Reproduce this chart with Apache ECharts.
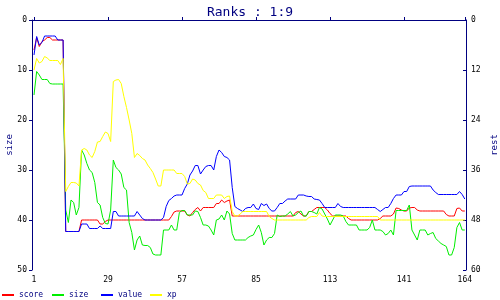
<!DOCTYPE html>
<html><head><meta charset="utf-8">
<script src="https://cdn.jsdelivr.net/npm/echarts@6/dist/echarts.min.js"></script>
<style>html,body{margin:0;padding:0;background:#fff}#c{width:500px;height:300px}</style>
</head><body><div id="c"></div>
<script>
const titleText = 'Ranks : 1:9';
const seriesNames = ['score', 'size', 'value', 'xp'];
const xTicks = [1, 29, 57, 85, 113, 141, 164];
const leftTicks = [0, 10, 20, 30, 40, 50];
const rightTicks = [0, 12, 24, 36, 48, 60];

const score = [6,3.5,5.3,4.3,4,3.5,3.5,4,4,4,4,4,
42.3,42.3,42.3,42.3,42.3,42.3,40,40,40,40,40,40,40,40.8,40.8,40.3,
40,40,40,40,40,40,40,40,40,40,40,40,40,40,40,40,40,40,40,40,40,40,40,40,
39.3,38.4,38.2,38.2,38.2,38.2,39.0,39.2,38.5,37.9,37.5,38.2,
37.5,37.5,37.5,37.5,37.5,36.7,36.7,36,36.5,36.2,36,
39.2,39.2,39.2,39.2,39.2,39.2,39.2,39.2,39.2,39.2,39.2,39.2,39.2,39.2,39.2,39.2,39.2,39.2,39.2,39.2,39.2,39.2,39.2,39.2,
38.5,38.3,38.8,39.2,39.2,38.3,38.3,37.9,37.5,37.5,37.5,37.5,38,38.7,
39.2,39.2,39.2,39.2,39.2,39.2,39.7,
40,40,40,40,40,40,40,40,40,40,40,39.7,39.2,39.2,39.2,39.2,38.8,
37.6,37.7,38,38.2,38.2,37.6,37.5,37.5,38,
38.2,38.2,38.2,38.2,38.2,38.2,38.2,38.2,38.2,38.2,38.9,39.2,39.2,39.2,37.7,37.6,38.2,38.2];

const size = [15,10.3,11,11.9,11.9,11.9,12.7,12.8,12.8,12.8,12.8,12.8,
38,40.5,36,36.5,39,37.5,26,27,28.7,30,30.5,32.5,36.5,37,39.5,40.7,40.8,38,
28,29.5,30,30.8,33.5,34,40.5,42.5,46,44,43.2,
45,45.1,45.1,45.5,46.8,47,47,47,42,42,42,41,42,42,38.5,38.1,38.1,39,39,39,
38.2,38.3,39.5,41,41,41.2,42,43,40,39.8,39,40,38.2,38.8,42.7,44,44,44,44,44,
43.5,43.2,43,41.9,41,42.5,45,44,43.5,43.5,42.7,39,39.3,39.2,39.2,38.8,38.3,39.2,39,38.5,38.2,
39.2,39.2,38.3,38.3,38.5,38.8,37.5,37.8,38.8,39.8,41,40,39,39,39,39.2,40.3,41,41,41,
41,42,42,42,42,41.5,40,42,42,42,42.3,43,42.7,42,43,38.1,38.1,38.1,38.1,38.1,37,42,43,44,42,42,42,
43,42.7,42.5,43.7,44.2,44.7,45,45.3,47,47,45.5,41.5,40.5,42,42];

const value = [7,3.3,5,4.5,3.2,3.2,3.2,3.2,3.2,4,4,4,
42.3,42.3,42.3,42.3,42.3,42.3,40.8,40.8,40.8,41.7,41.7,41.7,41.7,41.2,41.7,41.7,41.7,41.7,
38.3,38.3,39.2,39.2,39.2,39.2,39.2,39.2,39.2,38.3,39.0,39.7,40,40,40,40,40,40,40,
39.5,37.3,36.1,35.7,35.2,35,35,35,33.7,32.8,31,30.2,29.1,29.1,30.8,30,29.3,29.1,29.1,30,
27.3,26,26.5,27.3,27.5,28,33.5,37.3,37.7,38,38.3,37.7,37.5,37.5,36.8,37.7,37.9,36.7,37.1,36.8,
37.7,38.2,38.2,37.5,36.7,36.7,36.2,35.8,35.8,35.8,35.8,35,35,35,35.2,35.3,35.3,35.8,35.9,36,36.7,
37.5,37.5,37.5,37.5,37.5,36.7,37.3,37.5,37.5,37.5,37.5,37.5,37.5,37.5,37.5,37.5,37.5,37.5,37.5,37.5,
37.9,38.3,37.9,37.5,37.5,36.7,35.7,35,35,35,34.3,34.3,33.3,33.2,33.2,33.2,33.2,33.2,33.2,33.2,33.2,
34,34.5,34.9,34.9,34.9,34.9,34.9,34.9,34.9,34.9,34.3,34.9,35.8];

const xp = [10,7.7,8.6,8.3,7.3,7.6,8.1,8.1,8.1,8.1,8.9,7.7,
34.3,33.3,32.5,32.5,32.6,33.2,26,25.7,26,27,27.5,26.3,24.4,24.3,23.3,22.4,22.7,24.3,
12.3,12,11.9,12.7,15.3,17.5,20,22.7,27.5,26.7,27.1,27.7,28,29,29.7,30.5,31.8,33.2,33.2,
30,30,30,30,30,30.7,30.7,30.7,31.3,32.8,32.7,31.8,32,32.7,33,34.1,34.5,35.7,35.7,35.7,
35,35,35,35.7,35.3,35.2,38.3,39.2,39.2,38.8,
38.3,38.3,38.3,38.3,38.3,38.3,38.3,38.3,38.3,38.3,39.3,39.7,
40,40,40,40,40,40,40,40,40,40,40,40,40,39.5,39.3,39.3,39.3,38.5,39.2,
39.3,39.3,39.3,39.3,39.3,39.3,39.3,39.3,39.3,39.3,39.3,39.3,39.3,39.3,39.3,39.3,39.3,39.3,39.3,39.3,39.3,
40,40,40,40,40,40,40,40,40,40,40,40,40,40,40,40,40,40,40,40,40,40,40,40,40,40,40,40,40,40,40,40,40];

const colors = ['#ff0000', '#00ee00', '#0000ff', '#ffff00'];
const navy = '#000080';
const FONT = 'DejaVu Sans Mono';

const allSeries = [score, size, value, xp];
function pairs(arr) { return arr.map((v, k) => [k + 1, v]); }

const chart = echarts.init(document.getElementById('c'), null, {renderer: 'canvas'});
const legendLefts = [2, 52, 101, 150];
chart.setOption({
  animation: false,
  backgroundColor: '#ffffff',
  title: {
    text: titleText, left: 'center', top: 1,
    textStyle: {fontFamily: FONT, fontSize: 13, fontWeight: 'normal', color: navy}
  },
  legend: seriesNames.map((n, k) => ({
    data: [n], left: legendLefts[k], top: 291, icon: 'rect', itemWidth: 12, itemHeight: 2,
    padding: 0,
    textStyle: {fontFamily: FONT, fontSize: 8, color: navy}
  })),
  grid: {left: 32, right: 34, top: 20, bottom: 30, outerBoundsMode: 'none', containLabel: false},
  xAxis: {
    type: 'value', min: 0.24, max: 164.45,
    axisLine: {lineStyle: {color: navy, width: 1}},
    axisTick: {inside: true, length: 3, customValues: xTicks, lineStyle: {color: navy}},
    axisLabel: {customValues: xTicks, margin: 6, color: '#000', fontFamily: FONT, fontSize: 8},
    splitLine: {show: false}
  },
  yAxis: [{
    type: 'value', inverse: true, min: 0, max: 50, interval: 10, position: 'left',
    name: 'size', nameLocation: 'middle', nameGap: 18, nameRotate: 90, nameMoveOverlap: false,
    nameTextStyle: {fontFamily: FONT, fontSize: 9, color: navy},
    axisLine: {show: true, lineStyle: {color: navy, width: 1}},
    axisTick: {show: true, inside: false, length: 3, lineStyle: {color: navy}},
    axisLabel: {margin: 5, color: '#000', fontFamily: FONT, fontSize: 8, customValues: leftTicks},
    splitLine: {show: false}
  }, {
    type: 'value', inverse: true, min: 0, max: 60, interval: 12, position: 'right',
    name: 'rest', nameLocation: 'middle', nameGap: 24, nameRotate: 90, nameMoveOverlap: false,
    nameTextStyle: {fontFamily: FONT, fontSize: 9, color: navy},
    axisLine: {show: true, lineStyle: {color: navy, width: 1}},
    axisTick: {show: true, inside: true, length: 3, lineStyle: {color: navy}},
    axisLabel: {margin: 5, color: '#000', fontFamily: FONT, fontSize: 8, customValues: rightTicks},
    splitLine: {show: false}
  }],
  series: seriesNames.map((n, k) => ({
    name: n, type: 'line', yAxisIndex: 0, data: pairs(allSeries[k]),
    showSymbol: false, symbol: 'none', color: colors[k],
    lineStyle: {width: 1, color: colors[k]}, emphasis: {disabled: true}
  }))
});
</script></body></html>
